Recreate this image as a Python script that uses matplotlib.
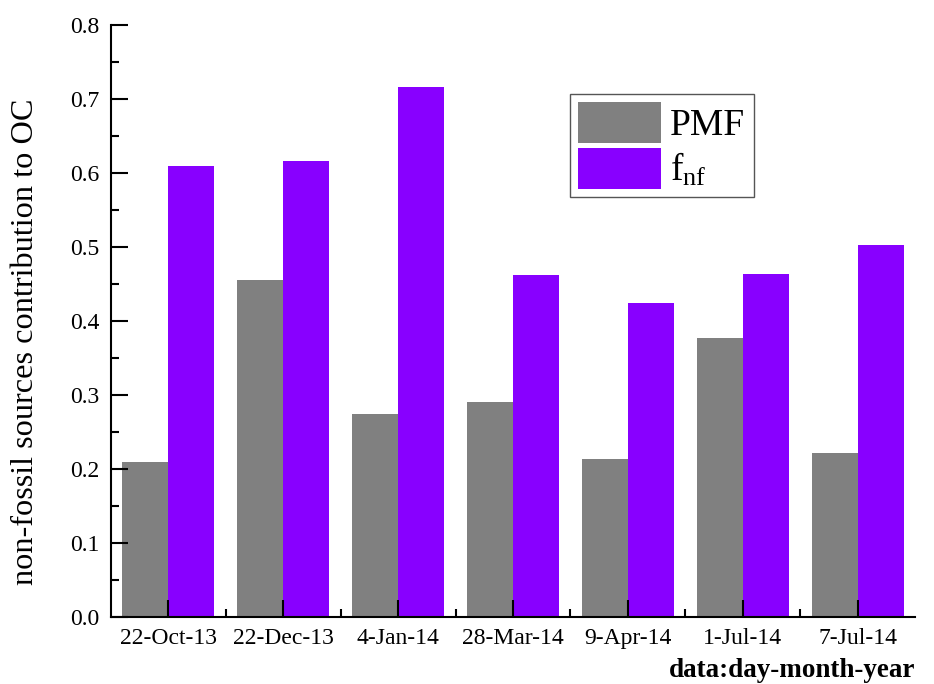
import numpy as np
import matplotlib
matplotlib.use('Agg')
import matplotlib.pyplot as plt
from matplotlib.ticker import MultipleLocator, FixedLocator

plt.rcParams['font.family'] = ['Liberation Serif', 'DejaVu Serif']
plt.rcParams['mathtext.fontset'] = 'custom'
plt.rcParams['mathtext.rm'] = 'Liberation Serif'
plt.rcParams['mathtext.it'] = 'Liberation Serif:italic'

# data
dates = ['22-Oct-13', '22-Dec-13', '4-Jan-14', '28-Mar-14', '9-Apr-14', '1-Jul-14', '7-Jul-14']
pmf = [0.209, 0.455, 0.274, 0.290, 0.213, 0.377, 0.221]
fnf = [0.610, 0.616, 0.716, 0.462, 0.424, 0.463, 0.502]
yticks = [0.0, 0.1, 0.2, 0.3, 0.4, 0.5, 0.6, 0.7, 0.8]

fig = plt.figure(figsize=(9.34, 6.84), dpi=100)
ax = fig.add_axes([0.1188, 0.098, 0.8609, 0.8655])

x = np.arange(len(dates))
w = 0.4
ax.bar(x - w / 2, pmf, width=w, color='#808080', label='PMF')
ax.bar(x + w / 2, fnf, width=w, color='#8800ff', label=r'f$_{\mathrm{nf}}$')

ax.set_xlim(-0.5, len(dates) - 0.5)
ax.set_ylim(0, 0.8)
ax.set_xticks(x)
ax.set_xticklabels(dates, fontsize=17)
ax.xaxis.set_minor_locator(FixedLocator(x[:-1] + 0.5))
ax.set_yticks(yticks)
ax.set_yticklabels([f'{v:.1f}' for v in yticks], fontsize=17)
ax.yaxis.set_minor_locator(MultipleLocator(0.05))

ax.tick_params(which='major', direction='in', length=12, width=1.5)
ax.tick_params(which='minor', direction='in', length=6, width=1.5)
ax.tick_params(axis='x', pad=8)
ax.tick_params(axis='y', pad=8)

for s in ['top', 'right']:
    ax.spines[s].set_visible(False)
for s in ['left', 'bottom']:
    ax.spines[s].set_linewidth(1.5)

ax.set_ylabel('non-fossil sources contribution to OC', fontsize=23.2)
ax.yaxis.set_label_coords(-0.088, 0.4645)
fig.text(0.98, 0.002, 'data:day-month-year', fontsize=19.5, fontweight='bold',
         ha='right', va='bottom')

leg = ax.legend(loc='upper left', bbox_to_anchor=(0.571, 0.8834), borderaxespad=0,
                fontsize=27, handlelength=2.2, handleheight=1.3, fancybox=False,
                framealpha=1, edgecolor='#555555', borderpad=0.22, labelspacing=0.12,
                handletextpad=0.25)
leg.get_frame().set_linewidth(1.0)

fig.savefig('out.png', dpi=100)
